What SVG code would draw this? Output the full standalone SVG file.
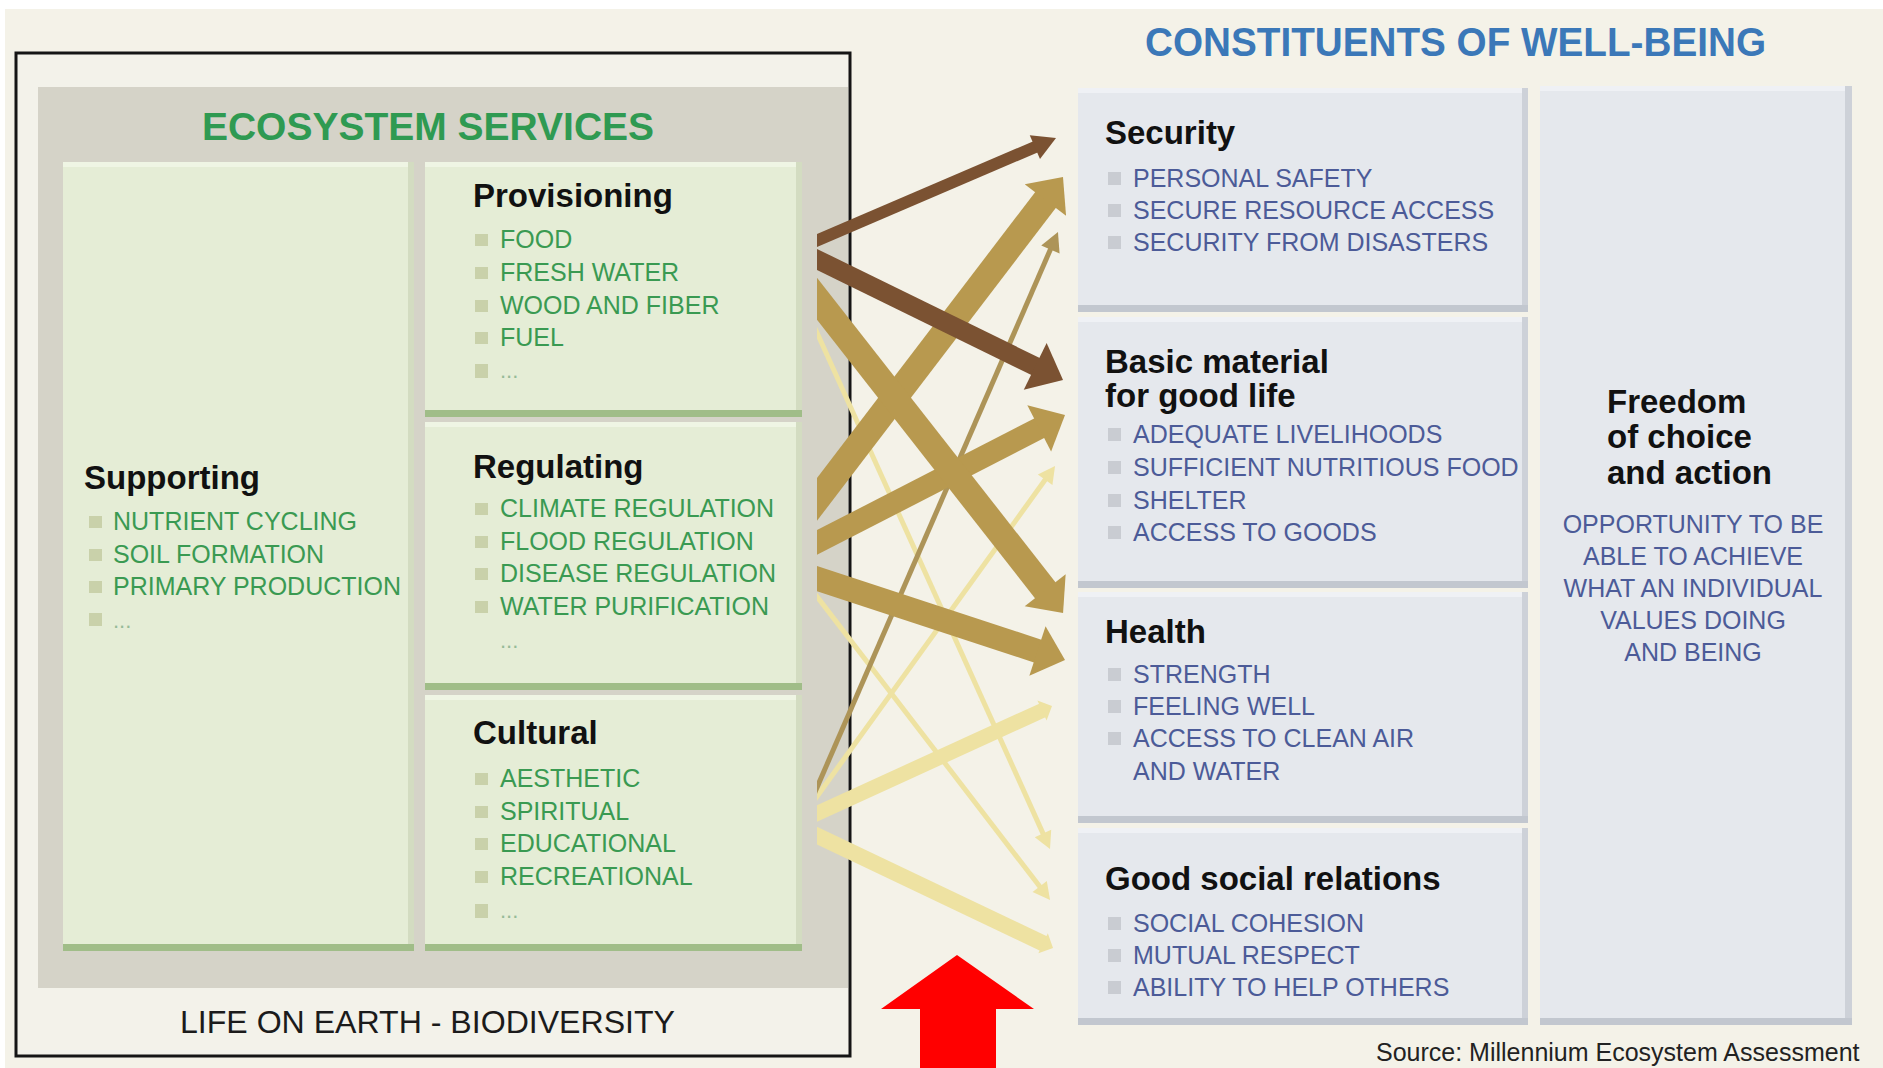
<svg xmlns="http://www.w3.org/2000/svg" width="1883" height="1068" viewBox="0 0 1883 1068">
<defs>
<style>
text{font-family:"Liberation Sans",Arial,Helvetica,sans-serif}
.h{font-weight:bold;font-size:33px;fill:#111}
.gi{font-size:25px;fill:#3a9a52}
.bi{font-size:25px;fill:#4c5b98}
.dots{font-size:22px;fill:#96bb98}
.gb{fill:#c9d1aa}
.bb{fill:#c9ccd2}
.gbox{fill:#e5edd6}
.ghi{fill:#eff5e4}
.gsh{fill:#d3dcc1}
.gband{fill:#a0bd88}
.bbox{fill:#e5e8ed}
.bhi{fill:#eff1f5}
.bsh{fill:#cdd1d8}
.bband{fill:#c2c7cf}
.a{fill:none;stroke-linecap:butt}
.brown{stroke:#7b5232}
.tan{stroke:#b8994f}
.olive{stroke:#ad9458}
.yel{stroke:#eee2a2}
</style>
<marker id="mBrownS" markerUnits="userSpaceOnUse" viewBox="-1 -13 23 26" refX="0" refY="0" markerWidth="23" markerHeight="26" orient="auto" overflow="visible"><path d="M-1,-13 L22,0 L-1,13 Z" fill="#7b5232"/></marker>
<marker id="mBrownL" markerUnits="userSpaceOnUse" viewBox="-1 -26 31 52" refX="0" refY="0" markerWidth="31" markerHeight="52" orient="auto" overflow="visible"><path d="M-1,-26 L30,0 L-1,26 Z" fill="#7b5232"/></marker>
<marker id="mTan" markerUnits="userSpaceOnUse" viewBox="-1 -26 29 52" refX="0" refY="0" markerWidth="29" markerHeight="52" orient="auto" overflow="visible"><path d="M-1,-26 L28,0 L-1,26 Z" fill="#b8994f"/></marker>
<marker id="mOlive" markerUnits="userSpaceOnUse" viewBox="-1 -10 19 20" refX="0" refY="0" markerWidth="19" markerHeight="20" orient="auto" overflow="visible"><path d="M-1,-10 L18,0 L-1,10 Z" fill="#ad9458"/></marker>
<marker id="mYel" markerUnits="userSpaceOnUse" viewBox="-1 -9 17 18" refX="0" refY="0" markerWidth="17" markerHeight="18" orient="auto" overflow="visible"><path d="M-1,-9 L16,0 L-1,9 Z" fill="#eee2a2"/></marker>
<marker id="mYelT" markerUnits="userSpaceOnUse" viewBox="-1 -11 11 22" refX="0" refY="0" markerWidth="11" markerHeight="22" orient="auto" overflow="visible"><path d="M-1,-11 L10,0 L-1,11 Z" fill="#eee2a2"/></marker>
<clipPath id="arrowClip"><rect x="817" y="0" width="300" height="1068"/></clipPath>
</defs>

<rect x="0" y="0" width="1883" height="1068" fill="#ffffff"/>
<rect x="5" y="9" width="1878" height="1059" fill="#f4f2e8"/>

<g id="life-on-earth">
<rect x="16" y="53" width="834" height="1003" fill="#f3f2ea" stroke="#151515" stroke-width="3"/>
<text x="180" y="1033" font-size="31" fill="#1b1b1b" textLength="495" lengthAdjust="spacingAndGlyphs">LIFE ON EARTH - BIODIVERSITY</text>
</g>

<g id="ecosystem-services">
<rect x="38" y="87" width="810" height="901" fill="#d5d3c8"/>
<text x="428" y="140" text-anchor="middle" font-size="39" font-weight="bold" fill="#2f9a52">ECOSYSTEM SERVICES</text>
</g>

<g id="supporting">
<rect class="gbox" x="63" y="162" width="351" height="789"/>
<rect class="ghi" x="63" y="162" width="351" height="5"/>
<rect class="gsh" x="408" y="162" width="6" height="789"/>
<rect class="gband" x="63" y="944" width="351" height="7"/>
<text class="h" x="84" y="489">Supporting</text>
<rect class="gb" x="89" y="516" width="13" height="12"/><text class="gi" x="113" y="530">NUTRIENT CYCLING</text>
<rect class="gb" x="89" y="549" width="13" height="12"/><text class="gi" x="113" y="563">SOIL FORMATION</text>
<rect class="gb" x="89" y="581" width="13" height="12"/><text class="gi" x="113" y="595">PRIMARY PRODUCTION</text>
<rect class="gb" x="89" y="613" width="13" height="13"/><text class="dots" x="113" y="628">...</text>
</g>

<g id="provisioning">
<rect class="gbox" x="425" y="162" width="377" height="255"/>
<rect class="ghi" x="425" y="162" width="377" height="5"/>
<rect class="gsh" x="796" y="162" width="6" height="255"/>
<rect class="gband" x="425" y="410" width="377" height="7"/>
<text class="h" x="473" y="207">Provisioning</text>
<rect class="gb" x="475" y="234" width="13" height="12"/><text class="gi" x="500" y="248">FOOD</text>
<rect class="gb" x="475" y="267" width="13" height="12"/><text class="gi" x="500" y="281">FRESH WATER</text>
<rect class="gb" x="475" y="300" width="13" height="12"/><text class="gi" x="500" y="314">WOOD AND FIBER</text>
<rect class="gb" x="475" y="332" width="13" height="12"/><text class="gi" x="500" y="346">FUEL</text>
<rect class="gb" x="475" y="364" width="13" height="14"/><text class="dots" x="500" y="378">...</text>
</g>

<g id="regulating">
<rect class="gbox" x="425" y="422" width="377" height="268"/>
<rect class="ghi" x="425" y="422" width="377" height="5"/>
<rect class="gsh" x="796" y="422" width="6" height="268"/>
<rect class="gband" x="425" y="683" width="377" height="7"/>
<text class="h" x="473" y="478">Regulating</text>
<rect class="gb" x="475" y="503" width="13" height="12"/><text class="gi" x="500" y="517">CLIMATE REGULATION</text>
<rect class="gb" x="475" y="536" width="13" height="12"/><text class="gi" x="500" y="550">FLOOD REGULATION</text>
<rect class="gb" x="475" y="568" width="13" height="12"/><text class="gi" x="500" y="582">DISEASE REGULATION</text>
<rect class="gb" x="475" y="601" width="13" height="12"/><text class="gi" x="500" y="615">WATER PURIFICATION</text>
<text class="dots" x="500" y="648">...</text>
</g>

<g id="cultural">
<rect class="gbox" x="425" y="695" width="377" height="256"/>
<rect class="ghi" x="425" y="695" width="377" height="5"/>
<rect class="gsh" x="796" y="695" width="6" height="256"/>
<rect class="gband" x="425" y="944" width="377" height="7"/>
<text class="h" x="473" y="744">Cultural</text>
<rect class="gb" x="475" y="773" width="13" height="12"/><text class="gi" x="500" y="787">AESTHETIC</text>
<rect class="gb" x="475" y="806" width="13" height="12"/><text class="gi" x="500" y="820">SPIRITUAL</text>
<rect class="gb" x="475" y="838" width="13" height="12"/><text class="gi" x="500" y="852">EDUCATIONAL</text>
<rect class="gb" x="475" y="871" width="13" height="12"/><text class="gi" x="500" y="885">RECREATIONAL</text>
<rect class="gb" x="475" y="904" width="13" height="14"/><text class="dots" x="500" y="918">...</text>
</g>

<g id="connectors" clip-path="url(#arrowClip)">
<line class="a yel" x1="805.7" y1="307.7" x2="1043.4" y2="834.4" stroke-width="5" marker-end="url(#mYel)"/>
<line class="a yel" x1="799.7" y1="574.2" x2="1040.3" y2="887.3" stroke-width="5" marker-end="url(#mYel)"/>
<line class="a yel" x1="800.5" y1="819.3" x2="1045.7" y2="479" stroke-width="5" marker-end="url(#mYel)"/>
<line class="a yel" x1="792.7" y1="824.5" x2="1042.9" y2="710.2" stroke-width="15" marker-end="url(#mYelT)"/>
<line class="a yel" x1="790.9" y1="823.1" x2="1044" y2="943.7" stroke-width="16" marker-end="url(#mYelT)"/>
<line class="a olive" x1="806.1" y1="812.5" x2="1050.8" y2="248.5" stroke-width="5" marker-end="url(#mOlive)"/>
<line class="a tan" x1="791.3" y1="555.7" x2="1040.1" y2="427.8" stroke-width="22" marker-end="url(#mTan)"/>
<line class="a tan" x1="789.5" y1="569.6" x2="1038.4" y2="651.3" stroke-width="24" marker-end="url(#mTan)"/>
<line class="a tan" x1="799.8" y1="521.9" x2="1046" y2="199.3" stroke-width="26" marker-end="url(#mTan)"/>
<line class="a tan" x1="799.5" y1="276.4" x2="1045.8" y2="591" stroke-width="26" marker-end="url(#mTan)"/>
<line class="a brown" x1="790.4" y1="251.8" x2="1035.8" y2="146.7" stroke-width="12" marker-end="url(#mBrownS)"/>
<line class="a brown" x1="791.1" y1="246.8" x2="1036.1" y2="366.8" stroke-width="19" marker-end="url(#mBrownL)"/>
</g>

<g id="red-arrow">
<polygon points="957,955 1034,1009 996,1009 996,1068 920,1068 920,1009 881,1009" fill="#ff0000"/>
</g>

<g id="constituents-title">
<text x="1145" y="56" font-size="40" font-weight="bold" fill="#3b78b8" textLength="621" lengthAdjust="spacingAndGlyphs">CONSTITUENTS OF WELL-BEING</text>
</g>

<g id="security">
<rect class="bbox" x="1078" y="88" width="450" height="224"/>
<rect class="bhi" x="1078" y="88" width="450" height="5"/>
<rect class="bsh" x="1522" y="88" width="6" height="224"/>
<rect class="bband" x="1078" y="305" width="450" height="7"/>
<text class="h" x="1105" y="144">Security</text>
<rect class="bb" x="1108" y="172" width="13" height="13"/><text class="bi" x="1133" y="187">PERSONAL SAFETY</text>
<rect class="bb" x="1108" y="204" width="13" height="13"/><text class="bi" x="1133" y="219">SECURE RESOURCE ACCESS</text>
<rect class="bb" x="1108" y="236" width="13" height="13"/><text class="bi" x="1133" y="251">SECURITY FROM DISASTERS</text>
</g>

<g id="basic-material">
<rect class="bbox" x="1078" y="317" width="450" height="271"/>
<rect class="bhi" x="1078" y="317" width="450" height="5"/>
<rect class="bsh" x="1522" y="317" width="6" height="271"/>
<rect class="bband" x="1078" y="581" width="450" height="7"/>
<text class="h" x="1105" y="373">Basic material</text>
<text class="h" x="1105" y="407">for good life</text>
<rect class="bb" x="1108" y="428" width="13" height="13"/><text class="bi" x="1133" y="443">ADEQUATE LIVELIHOODS</text>
<rect class="bb" x="1108" y="461" width="13" height="13"/><text class="bi" x="1133" y="476">SUFFICIENT NUTRITIOUS FOOD</text>
<rect class="bb" x="1108" y="494" width="13" height="13"/><text class="bi" x="1133" y="509">SHELTER</text>
<rect class="bb" x="1108" y="526" width="13" height="13"/><text class="bi" x="1133" y="541">ACCESS TO GOODS</text>
</g>

<g id="health">
<rect class="bbox" x="1078" y="592" width="450" height="231"/>
<rect class="bhi" x="1078" y="592" width="450" height="5"/>
<rect class="bsh" x="1522" y="592" width="6" height="231"/>
<rect class="bband" x="1078" y="816" width="450" height="7"/>
<text class="h" x="1105" y="643">Health</text>
<rect class="bb" x="1108" y="668" width="13" height="13"/><text class="bi" x="1133" y="683">STRENGTH</text>
<rect class="bb" x="1108" y="700" width="13" height="13"/><text class="bi" x="1133" y="715">FEELING WELL</text>
<rect class="bb" x="1108" y="732" width="13" height="13"/><text class="bi" x="1133" y="747">ACCESS TO CLEAN AIR</text>
<text class="bi" x="1133" y="780">AND WATER</text>
</g>

<g id="good-social-relations">
<rect class="bbox" x="1078" y="828" width="450" height="197"/>
<rect class="bhi" x="1078" y="828" width="450" height="5"/>
<rect class="bsh" x="1522" y="828" width="6" height="197"/>
<rect class="bband" x="1078" y="1018" width="450" height="7"/>
<text class="h" x="1105" y="890">Good social relations</text>
<rect class="bb" x="1108" y="917" width="13" height="13"/><text class="bi" x="1133" y="932">SOCIAL COHESION</text>
<rect class="bb" x="1108" y="949" width="13" height="13"/><text class="bi" x="1133" y="964">MUTUAL RESPECT</text>
<rect class="bb" x="1108" y="981" width="13" height="13"/><text class="bi" x="1133" y="996">ABILITY TO HELP OTHERS</text>
</g>

<g id="freedom">
<rect class="bbox" x="1540" y="86" width="312" height="939"/>
<rect class="bhi" x="1540" y="86" width="312" height="5"/>
<rect class="bsh" x="1845" y="86" width="7" height="939"/>
<rect class="bband" x="1540" y="1018" width="312" height="7"/>
<text class="h" x="1607" y="413">Freedom</text>
<text class="h" x="1607" y="448">of choice</text>
<text class="h" x="1607" y="484">and action</text>
<text class="bi" x="1693" y="533" text-anchor="middle">OPPORTUNITY TO BE</text>
<text class="bi" x="1693" y="565" text-anchor="middle">ABLE TO ACHIEVE</text>
<text class="bi" x="1693" y="597" text-anchor="middle">WHAT AN INDIVIDUAL</text>
<text class="bi" x="1693" y="629" text-anchor="middle">VALUES DOING</text>
<text class="bi" x="1693" y="661" text-anchor="middle">AND BEING</text>
</g>

<text x="1376" y="1061" font-size="25" fill="#222">Source: Millennium Ecosystem Assessment</text>
</svg>
